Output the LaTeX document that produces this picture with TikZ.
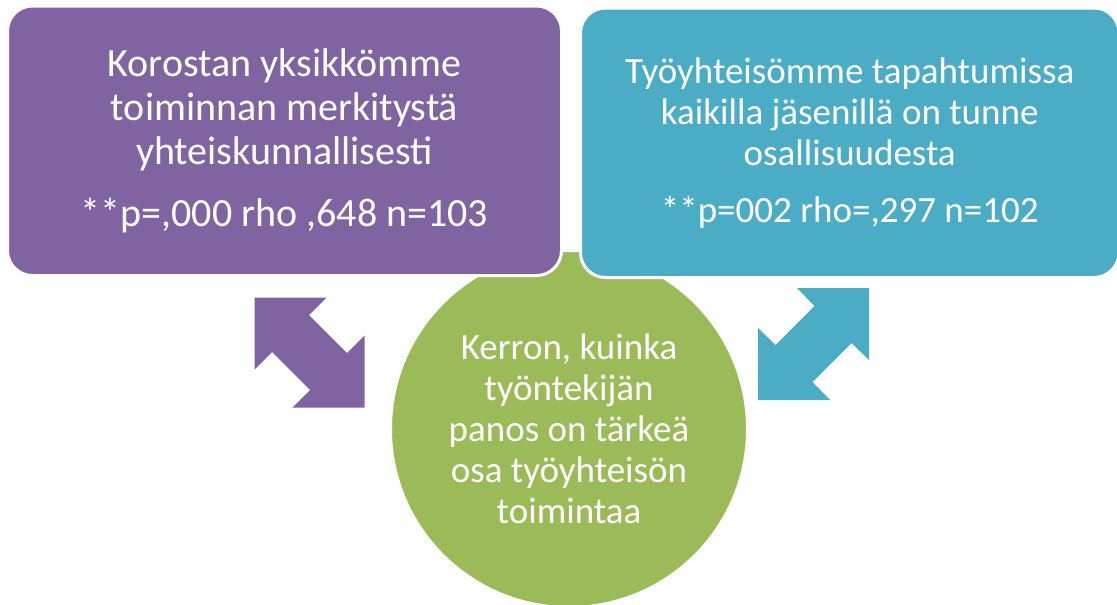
\documentclass[tikz,border=0pt]{standalone}
\usepackage{fontspec}
\setmainfont{Carlito}
\definecolor{boxpurple}{HTML}{8064A2}
\definecolor{boxteal}{HTML}{4BACC6}
\definecolor{circgreen}{HTML}{9BBB59}
\begin{document}
\begin{tikzpicture}[x=1pt,y=-1pt,
  txt/.style={text=white, align=center, inner sep=0pt},
  box/.style={txt, rounded corners=25pt, draw=white, line width=3pt},
  bubble/.style={txt, circle, draw=white, line width=2pt, fill=circgreen},
  dblarrow/.style={draw=none}]
\useasboundingbox (0,0) rectangle (1117,605);
\fill[white] (0,0) rectangle (1117,605);
\node[bubble, minimum size=356pt, font=\fontsize{37}{41}\selectfont] (circ) at (569,429)
  {Kerron, kuinka\\työntekijän\\panos on tärkeä\\osa työyhteisön\\toimintaa};
\node[box, fill=boxpurple, minimum width=554pt, minimum height=269.5pt, font=\fontsize{40}{44}\selectfont] (pbox) at (284.5,140.75)
  {Korostan yksikkömme\\toiminnan merkitystä\\yhteiskunnallisesti\\[18pt]**p=,000 rho ,648 n=103};
\node[box, fill=boxteal, minimum width=538.5pt, minimum height=269.5pt, font=\fontsize{37}{41}\selectfont] (tbox) at (849.75,142.75)
  {Työyhteisömme tapahtumissa\\kaikilla jäsenillä on tunne\\osallisuudesta\\[16pt]**p=002 rho=,297 n=102};
\coordinate (parr) at (309.5,352.5);
\coordinate (tarr) at (813.5,344);
\fill[dblarrow, boxpurple, shift={(parr)}]
  (-55,-55) -- (17,-55) -- (-0.6,-37.4) -- (37.4,0.6) -- (55,-17) -- (55,55)
  -- (-17,55) -- (0.6,37.4) -- (-37.4,-0.6) -- (-55,17) -- cycle;
\fill[dblarrow, boxteal, shift={(tarr)}, xscale=-1]
  (-55.5,-56) -- (16.5,-56) -- (-1,-38) -- (38,1) -- (55.5,-16) -- (55.5,56)
  -- (-16.5,56) -- (1,38) -- (-38,-1) -- (-55.5,16) -- cycle;
\end{tikzpicture}
\end{document}
